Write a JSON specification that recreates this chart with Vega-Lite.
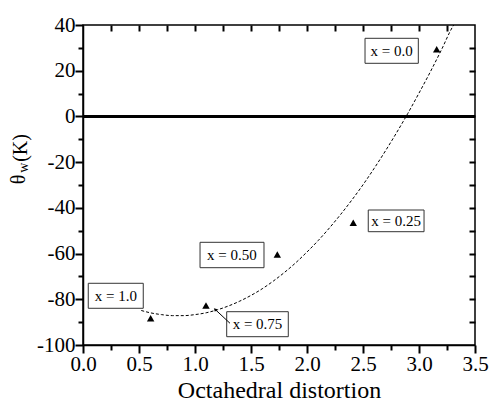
{
  "$schema": "https://vega.github.io/schema/vega-lite/v6.json",
  "autosize": {"type": "none"},
  "padding": {"left": 83, "top": 25, "right": 15, "bottom": 59},
  "width": 392,
  "height": 320,
  "config": {
    "font": "Liberation Serif",
    "view": {"stroke": "black", "strokeWidth": 1.5},
    "axis": {"grid": false, "labelFlush": false, "domainColor": "black", "domainWidth": 1.5, "tickColor": "black", "tickWidth": 2, "labelColor": "black", "titleColor": "black", "labelFont": "Liberation Serif", "titleFont": "Liberation Serif", "labelFontSize": 21, "titleFontSize": 24, "titleFontWeight": "normal"}
  },
  "resolve": {"axis": {"x": "independent", "y": "independent"}},
  "datasets": {
    "points": [
      {"d": 0.604, "t": -88.3},
      {"d": 1.098, "t": -82.7},
      {"d": 1.735, "t": -60.4},
      {"d": 2.413, "t": -46.5},
      {"d": 3.158, "t": 29.4}
    ],
    "curve": [
      {"d": 0.52, "t": -84.9}, {"d": 0.6, "t": -85.9}, {"d": 0.7, "t": -86.7}, {"d": 0.8, "t": -87.15},
      {"d": 0.9, "t": -87.15}, {"d": 1.0, "t": -86.7}, {"d": 1.1, "t": -85.9}, {"d": 1.2, "t": -84.6},
      {"d": 1.3, "t": -82.9}, {"d": 1.4, "t": -80.8}, {"d": 1.5, "t": -78.3}, {"d": 1.6, "t": -75.4},
      {"d": 1.7, "t": -72.0}, {"d": 1.8, "t": -68.2}, {"d": 1.9, "t": -64.0}, {"d": 2.0, "t": -59.3},
      {"d": 2.1, "t": -54.3}, {"d": 2.2, "t": -48.8}, {"d": 2.3, "t": -42.9}, {"d": 2.4, "t": -36.6},
      {"d": 2.5, "t": -29.9}, {"d": 2.6, "t": -22.7}, {"d": 2.7, "t": -15.1}, {"d": 2.8, "t": -7.1},
      {"d": 2.9, "t": 1.3}, {"d": 3.0, "t": 10.2}, {"d": 3.1, "t": 19.4}, {"d": 3.2, "t": 29.1},
      {"d": 3.3, "t": 39.2}, {"d": 3.31, "t": 40.0}
    ],
    "labels": [
      {"label": "x = 0.0", "d": 2.756, "t": 28.7, "d1": 2.518, "d2": 2.994, "t1": 23.24, "t2": 34.18},
      {"label": "x = 0.25", "d": 2.796, "t": -45.7, "d1": 2.547, "d2": 3.045, "t1": -50.43, "t2": -40.94},
      {"label": "x = 0.50", "d": 1.33, "t": -60.6, "d1": 1.045, "d2": 1.616, "t1": -66.18, "t2": -55.07},
      {"label": "x = 0.75", "d": 1.558, "t": -90.9, "d1": 1.283, "d2": 1.833, "t1": -96.37, "t2": -85.43},
      {"label": "x = 1.0", "d": 0.293, "t": -78.5, "d1": 0.047, "d2": 0.538, "t1": -83.94, "t2": -73.0}
    ],
    "arrow": [
      {"d": 1.3125, "t": -90.5, "d2": 1.179, "t2": -84.4}
    ],
    "arrowhead": [
      {"d": 1.179, "t": -84.4}
    ],
    "ytitle": [
      {"s": "(K)", "d": -0.558, "t": -13.8, "w": "normal", "fs": 20},
      {"s": "w", "d": -0.527, "t": -22.4, "w": "bold", "fs": 14},
      {"s": "θ", "d": -0.571, "t": -27.6, "w": "bold", "fs": 20}
    ]
  },
  "layer": [
    {
      "data": {"name": "curve"},
      "mark": {"type": "line", "color": "black", "strokeWidth": 1, "strokeDash": [3, 2], "interpolate": "monotone", "clip": true},
      "encoding": {
        "x": {"field": "d", "type": "quantitative", "scale": {"domain": [0, 3.5], "nice": false},
          "axis": {"orient": "bottom", "values": [0, 0.25, 0.5, 0.75, 1, 1.25, 1.5, 1.75, 2, 2.25, 2.5, 2.75, 3, 3.25, 3.5],
            "labelExpr": "datum.value % 0.5 === 0 ? format(datum.value, '.1f') : ''",
            "tickSize": {"condition": {"test": "datum.value % 0.5 === 0", "value": 8}, "value": 5},
            "title": "Octahedral distortion", "labelPadding": 0, "titlePadding": 4}},
        "y": {"field": "t", "type": "quantitative", "scale": {"domain": [-100, 40], "nice": false},
          "axis": {"orient": "left", "values": [-100, -90, -80, -70, -60, -50, -40, -30, -20, -10, 0, 10, 20, 30, 40],
            "labelExpr": "datum.value % 20 === 0 ? '' + datum.value : ''",
            "tickSize": {"condition": {"test": "datum.value % 20 === 0", "value": 8}, "value": 5},
            "title": null, "labelPadding": 0}}
      }
    },
    {
      "data": {"values": [{"z": 0}]},
      "mark": {"type": "rule", "color": "black", "strokeWidth": 3},
      "encoding": {"y": {"field": "z", "type": "quantitative", "axis": null}}
    },
    {
      "data": {"name": "points"},
      "mark": {"type": "point", "shape": "triangle-up", "filled": true, "color": "black", "opacity": 1, "size": 55},
      "encoding": {
        "x": {"field": "d", "type": "quantitative",
          "axis": {"orient": "top", "values": [0.25, 0.5, 0.75, 1, 1.25, 1.5, 1.75, 2, 2.25, 2.5, 2.75, 3, 3.25], "labels": false, "domain": false, "title": null, "tickSize": -6}},
        "y": {"field": "t", "type": "quantitative",
          "axis": {"orient": "right", "values": [-90, -80, -70, -60, -50, -40, -30, -20, -10, 0, 10, 20, 30], "labels": false, "domain": false, "title": null, "tickSize": -6}}
      }
    },
    {
      "data": {"name": "labels"},
      "mark": {"type": "rect", "fill": "white", "stroke": "#333333", "strokeWidth": 1},
      "encoding": {
        "x": {"field": "d1", "type": "quantitative", "axis": null},
        "x2": {"field": "d2"},
        "y": {"field": "t1", "type": "quantitative", "axis": null},
        "y2": {"field": "t2"}
      }
    },
    {
      "data": {"name": "labels"},
      "mark": {"type": "text", "fontSize": 15, "color": "black", "align": "center", "baseline": "middle", "font": "Liberation Serif"},
      "encoding": {
        "x": {"field": "d", "type": "quantitative", "axis": null},
        "y": {"field": "t", "type": "quantitative", "axis": null},
        "text": {"field": "label"}
      }
    },
    {
      "data": {"name": "arrow"},
      "mark": {"type": "rule", "color": "black", "strokeWidth": 1},
      "encoding": {
        "x": {"field": "d", "type": "quantitative", "axis": null},
        "y": {"field": "t", "type": "quantitative", "axis": null},
        "x2": {"field": "d2"},
        "y2": {"field": "t2"}
      }
    },
    {
      "data": {"name": "arrowhead"},
      "mark": {"type": "point", "shape": "triangle-up", "filled": true, "color": "black", "opacity": 1, "size": 14, "angle": 315},
      "encoding": {
        "x": {"field": "d", "type": "quantitative", "axis": null},
        "y": {"field": "t", "type": "quantitative", "axis": null}
      }
    },
    {
      "data": {"name": "ytitle"},
      "mark": {"type": "text", "angle": 270, "align": "center", "baseline": "middle", "color": "black", "clip": false, "font": "Liberation Serif"},
      "encoding": {
        "x": {"field": "d", "type": "quantitative", "axis": null},
        "y": {"field": "t", "type": "quantitative", "axis": null},
        "text": {"field": "s"},
        "fontWeight": {"field": "w", "type": "nominal", "scale": null},
        "size": {"field": "fs", "type": "quantitative", "scale": null}
      }
    }
  ]
}
